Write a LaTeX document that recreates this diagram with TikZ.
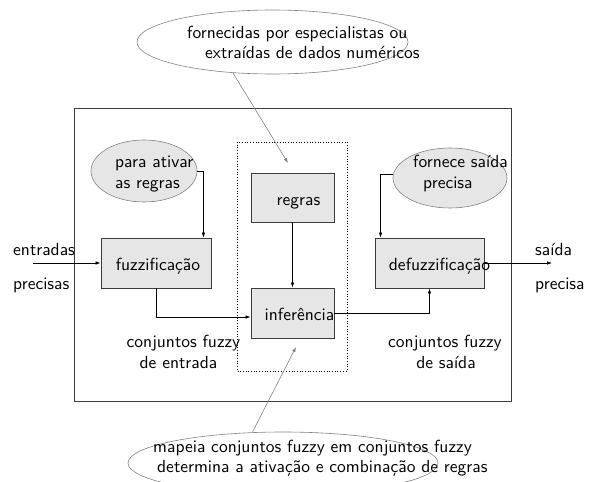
\documentclass[tikz,border=0pt]{standalone}
\usepackage{fontspec}
\setsansfont{lmsans10-regular.otf}
\usetikzlibrary{shapes.geometric}
\usetikzlibrary{arrows,arrows.meta}
\usetikzlibrary{calc}
\definecolor{caixa}{RGB}{230,230,230}
\definecolor{borda}{RGB}{60,60,60}
\definecolor{contorno}{RGB}{130,130,130}

\tikzset{
    bloco/.style={draw=borda, fill=caixa, line width=0.9pt, inner sep=0pt},
    rotulo/.style={text height=12pt, text depth=3.5pt, yshift=-3.5pt},
    balao/.style={ellipse, draw=contorno, line width=0.6pt, inner sep=0pt},
    seta/.style={-{Latex[length=5pt,width=3.5pt]}, line width=0.6pt},
    texto/.style={anchor=base west, inner sep=0pt},
    meio/.style={anchor=base, inner sep=0pt},
}

\begin{document}
\begin{tikzpicture}[x=1pt, y=-1pt, font=\sffamily\fontsize{17.5}{20.5}\selectfont]

    \useasboundingbox (0,0) rectangle (590,482);

    \draw[borda, line width=0.9pt] (74,108) rectangle (511,401);
    \draw[dotted, line width=0.7pt] (237,142) rectangle (347,371);

    % baloes
    \node[balao, minimum width=271, minimum height=64] (fontes) at (272.5,42) {};
    \node[texto] (fontes1) at (187,38) {fornecidas por especialistas ou};
    \node[texto] (fontes2) at (205,58) {extraídas de dados numéricos};

    \node[balao, fill=caixa, minimum width=106, minimum height=62] (ativar) at (144,171) {};
    \node[texto] (ativar1) at (115,167) {para ativar};
    \node[texto] (ativar2) at (115,188) {as regras};

    \node[balao, fill=caixa, minimum width=114, minimum height=60] (fornece) at (450,178) {};
    \node[texto] (fornece1) at (413,167) {fornece saída};
    \node[texto] (fornece2) at (423,188) {precisa};

    \node[balao, minimum width=310, minimum height=62] (mapeia) at (283,463) {};
    \node[texto] (mapeia1) at (153,452) {mapeia conjuntos fuzzy em conjuntos fuzzy};
    \node[texto] (mapeia2) at (157,472) {determina a ativação e combinação de regras};

    % blocos
    \node[bloco, minimum width=110, minimum height=50,
        label={[name=fuzzl, rotulo, xshift=2pt]center:fuzzificação}] (fuzz) at (156,263) {};
    \node[bloco, minimum width=83, minimum height=49,
        label={[name=regrasl, rotulo, xshift=6pt]center:regras}] (regras) at (292.5,197.5) {};
    \node[bloco, minimum width=83, minimum height=50,
        label={[name=inferl, rotulo, xshift=7pt]center:inferência}] (infer) at (292.5,313) {};
    \node[bloco, minimum width=109, minimum height=50,
        label={[name=defuzzl, rotulo, xshift=10pt]center:defuzzificação}] (defuzz) at (429.5,263) {};

    % entradas e saidas
    \coordinate (ent) at (33,263);
    \coordinate (sai) at (552,263);
    \coordinate (pontaregras) at (288,163);
    \coordinate (pontainfer) at (296,347);

    \node[texto] (ent1) at (13,255) {entradas};
    \node[texto] (ent2) at (13,289) {precisas};
    \node[texto] (sai1) at (535,255) {saída};
    \node[texto] (sai2) at (535,289) {precisa};

    \node[meio] (cfe1) at (183.5,347) {conjuntos fuzzy};
    \node[meio] (cfe2) at (178.5,368) {de entrada};
    \node[meio] (cfs1) at (445,347) {conjuntos fuzzy};
    \node[meio] (cfs2) at (446,368) {de saída};

    % ligacoes
    \draw[seta] (ent) -- (fuzz.west);
    \draw[seta] (defuzz.east) -- (sai);
    \draw[seta] (ativar.east) -| ([xshift=-8pt]fuzz.north east);
    \draw[seta] ([yshift=4pt]fornece.west) -| ([xshift=6pt]defuzz.north west);
    \draw[seta] (fuzz.south) |- ([yshift=-4pt]infer.west);
    \draw[seta] (regras.south) -- (infer.north);
    \draw[seta] (infer.east) -| (defuzz.south);

    \draw[seta, contorno] (fontes.218) -- (pontaregras);
    \draw[seta, contorno] (mapeia.135) -- (pontainfer);

\end{tikzpicture}
\end{document}
